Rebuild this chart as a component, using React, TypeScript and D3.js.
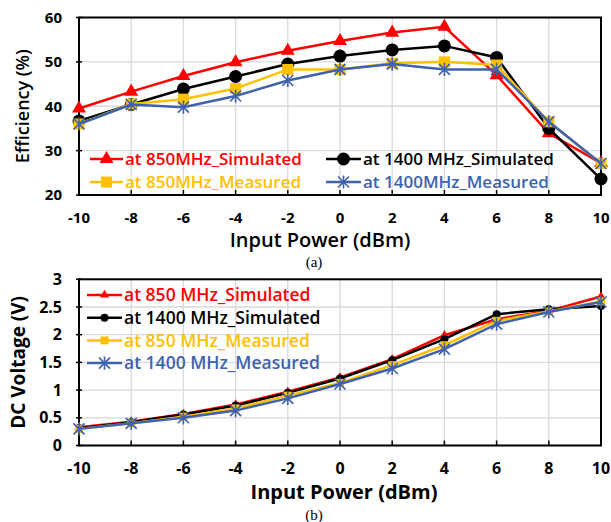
import * as d3 from "d3";

const inputPower = [-10, -8, -6, -4, -2, 0, 2, 4, 6, 8, 10];

// (a) efficiency, %
const eff850Sim = [39.5, 43.3, 46.8, 49.9, 52.5, 54.7, 56.6, 57.9, 47.0, 33.9, 27.2];
const eff1400Sim = [36.7, 40.4, 43.9, 46.7, 49.5, 51.3, 52.7, 53.6, 51.0, 35.0, 23.6];
const eff850Meas = [36.0, 40.5, 41.6, 44.0, 48.3, 48.3, 49.7, 50.0, 49.3, 36.5, 27.1];
const eff1400Meas = [36.0, 40.4, 39.8, 42.3, 45.8, 48.3, 49.5, 48.3, 48.3, 36.5, 27.1];

// (b) DC voltage, V
const dc850Sim = [0.33, 0.43, 0.57, 0.74, 0.97, 1.23, 1.56, 1.99, 2.28, 2.43, 2.69];
const dc1400Sim = [0.31, 0.42, 0.56, 0.72, 0.95, 1.21, 1.54, 1.92, 2.37, 2.46, 2.52];
const dc850Meas = [0.30, 0.40, 0.52, 0.67, 0.90, 1.13, 1.45, 1.81, 2.25, 2.42, 2.60];
const dc1400Meas = [0.30, 0.40, 0.50, 0.63, 0.85, 1.11, 1.39, 1.74, 2.19, 2.41, 2.59];

const effTicks = [20, 30, 40, 50, 60];
const dcTicks = [0, 0.5, 1, 1.5, 2, 2.5, 3];

const RED = "#ff0000";
const BLACK = "#000000";
const GOLD = "#ffc000";
const BLUE = "#3e62ad";
const FONT = "'Open Sans', 'Liberation Sans', sans-serif";

type Series = { name: string; values: number[]; color: string; marker: string };

function Marker({ kind, x, y, size, color }: { kind: string; x: number; y: number; size: number; color: string }) {
  if (kind === "star") {
    const s = size / 2;
    const d = `M${x - s},${y - s}L${x + s},${y + s}M${x - s},${y + s}L${x + s},${y - s}M${x},${y - s * 1.2}L${x},${y + s * 1.2}`;
    return <path d={d} stroke={color} strokeWidth={1.6} fill="none" />;
  }
  const type = kind === "triangle" ? d3.symbolTriangle : kind === "square" ? d3.symbolSquare : d3.symbolCircle;
  const area = kind === "circle" ? Math.PI * (size / 2) ** 2 : kind === "square" ? size * size : (size * size * Math.sqrt(3)) / 4;
  const d = d3.symbol().type(type).size(area)() as string;
  return <path d={d} transform={`translate(${x},${y})`} fill={color} />;
}

function Chart(props: {
  top: number;
  height: number;
  yDomain: [number, number];
  yTicks: number[];
  series: Series[];
  markerSizes: Record<string, number>;
  tickFont: number;
  yTitle: string;
  yTitleX: number;
  yTitleSize: number;
  yTitleWeight: number;
  xTitleX: number;
  xTitleY: number;
  xTitleSize: number;
  xTitleWeight: number;
  caption: string;
  captionY: number;
  children?: any;
}) {
  const left = 79;
  const right = 601;
  const x = d3.scaleLinear().domain([-10, 10]).range([left, right]);
  const y = d3.scaleLinear().domain(props.yDomain).range([props.top + props.height, props.top]);
  const line = d3
    .line<number>()
    .x((_, i) => x(inputPower[i]))
    .y((v) => y(v));
  const bottom = props.top + props.height;
  return (
    <g>
      {inputPower.map((p) => (
        <line key={"vx" + p} x1={x(p)} x2={x(p)} y1={props.top} y2={bottom} stroke="#d9d9d9" strokeWidth={1.3} />
      ))}
      {props.yTicks.map((t) => (
        <line key={"hy" + t} x1={left} x2={right} y1={y(t)} y2={y(t)} stroke="#d9d9d9" strokeWidth={1.3} />
      ))}
      {inputPower.map((p) => (
        <line key={"tx" + p} x1={x(p)} x2={x(p)} y1={bottom} y2={bottom - 5} stroke="#000" strokeWidth={1.5} />
      ))}
      {props.yTicks.map((t) => (
        <line key={"ty" + t} x1={left - 3} x2={left + 3} y1={y(t)} y2={y(t)} stroke="#000" strokeWidth={1.5} />
      ))}
      <rect x={left} y={props.top} width={right - left} height={props.height} fill="none" stroke="#000" strokeWidth={2} />
      {props.yTicks.map((t) => (
        <text key={"ly" + t} x={62} y={y(t)} dy="0.35em" textAnchor="end" fontSize={props.tickFont} fontWeight={700} fontFamily={FONT}>
          {String(t)}
        </text>
      ))}
      {inputPower.map((p) => (
        <text key={"lx" + p} x={x(p)} y={bottom + 23} dy="0.35em" textAnchor="middle" fontSize={props.tickFont} fontWeight={700} fontFamily={FONT}>
          {p}
        </text>
      ))}
      <text
        transform={`translate(${props.yTitleX},${props.top + props.height / 2}) rotate(-90)`}
        textAnchor="middle"
        dy="0.35em"
        fontSize={props.yTitleSize}
        fontWeight={props.yTitleWeight}
        fontFamily={FONT}
      >
        {props.yTitle}
      </text>
      <text
        x={props.xTitleX}
        y={props.xTitleY}
        dy="0.35em"
        textAnchor="middle"
        fontSize={props.xTitleSize}
        fontWeight={props.xTitleWeight}
        fontFamily={FONT}
      >
        Input Power (dBm)
      </text>
      <text x={314} y={props.captionY} dy="0.35em" textAnchor="middle" fontSize={15} fontFamily="'Liberation Serif', serif">
        {props.caption}
      </text>
      {props.series.map((s) => (
        <g key={s.name}>
          <path d={line(s.values) as string} fill="none" stroke={s.color} strokeWidth={2.5} />
          {s.values.map((v, i) => (
            <Marker key={i} kind={s.marker} x={x(inputPower[i])} y={y(v)} size={props.markerSizes[s.marker]} color={s.color} />
          ))}
        </g>
      ))}
      {props.children}
    </g>
  );
}

function LegendItem({ s, x, y, size, fontSize, lineLen }: { s: Series; x: number; y: number; size: number; fontSize: number; lineLen: number }) {
  return (
    <g>
      <line x1={x} x2={x + lineLen} y1={y} y2={y} stroke={s.color} strokeWidth={2.5} />
      <Marker kind={s.marker} x={x + lineLen / 2} y={y} size={size} color={s.color} />
      <text x={x + lineLen + 2} y={y} dy="0.35em" fontSize={fontSize} fontWeight={600} fill={s.color} fontFamily={FONT}>
        {s.name}
      </text>
    </g>
  );
}

export default function App() {
  const topSeries: Series[] = [
    { name: "at 850MHz_Simulated", values: eff850Sim, color: RED, marker: "triangle" },
    { name: "at 1400 MHz_Simulated", values: eff1400Sim, color: BLACK, marker: "circle" },
    { name: "at 850MHz_Measured", values: eff850Meas, color: GOLD, marker: "square" },
    { name: "at 1400MHz_Measured", values: eff1400Meas, color: BLUE, marker: "star" },
  ];
  const bottomSeries: Series[] = [
    { name: "at 850 MHz_Simulated", values: dc850Sim, color: RED, marker: "triangle" },
    { name: "at 1400 MHz_Simulated", values: dc1400Sim, color: BLACK, marker: "circle" },
    { name: "at 850 MHz_Measured", values: dc850Meas, color: GOLD, marker: "square" },
    { name: "at 1400 MHz_Measured", values: dc1400Meas, color: BLUE, marker: "star" },
  ];
  const topSizes = { triangle: 14, circle: 13, square: 11, star: 11 };
  const bottomSizes = { triangle: 9, circle: 8, square: 8, star: 11 };

  return (
    <svg width={611} height={522} style={{ position: "absolute", left: 0, top: 0, background: "#fff" }}>
      <rect width={611} height={522} fill="#fff" />
      <Chart
        top={17.5}
        height={177.5}
        yDomain={[20, 60]}
        yTicks={effTicks}
        series={topSeries}
        markerSizes={topSizes}
        tickFont={15}
        yTitle="Efficiency (%)"
        yTitleX={23}
        yTitleSize={18}
        yTitleWeight={600}
        xTitleX={320}
        xTitleY={240}
        xTitleSize={20}
        xTitleWeight={600}
        caption="(a)"
        captionY={262}
      >
        <LegendItem s={topSeries[0]} x={90} y={159} size={topSizes.triangle} fontSize={17} lineLen={33} />
        <LegendItem s={topSeries[2]} x={90} y={182} size={topSizes.square} fontSize={17} lineLen={33} />
        <LegendItem s={topSeries[1]} x={326} y={159} size={topSizes.circle} fontSize={17} lineLen={35} />
        <LegendItem s={topSeries[3]} x={326} y={182} size={topSizes.star} fontSize={17} lineLen={35} />
      </Chart>
      <Chart
        top={279.3}
        height={166.2}
        yDomain={[0, 3]}
        yTicks={dcTicks}
        series={bottomSeries}
        markerSizes={bottomSizes}
        tickFont={16}
        yTitle="DC Voltage (V)"
        yTitleX={18}
        yTitleSize={19}
        yTitleWeight={700}
        xTitleX={344}
        xTitleY={492}
        xTitleSize={20}
        xTitleWeight={700}
        caption="(b)"
        captionY={515}
      >
        {bottomSeries.map((s, i) => (
          <LegendItem
            key={s.name}
            s={s}
            x={87}
            y={295 + i * 22.7}
            size={bottomSizes[s.marker as keyof typeof bottomSizes]}
            fontSize={17.5}
            lineLen={35}
          />
        ))}
      </Chart>
    </svg>
  );
}
